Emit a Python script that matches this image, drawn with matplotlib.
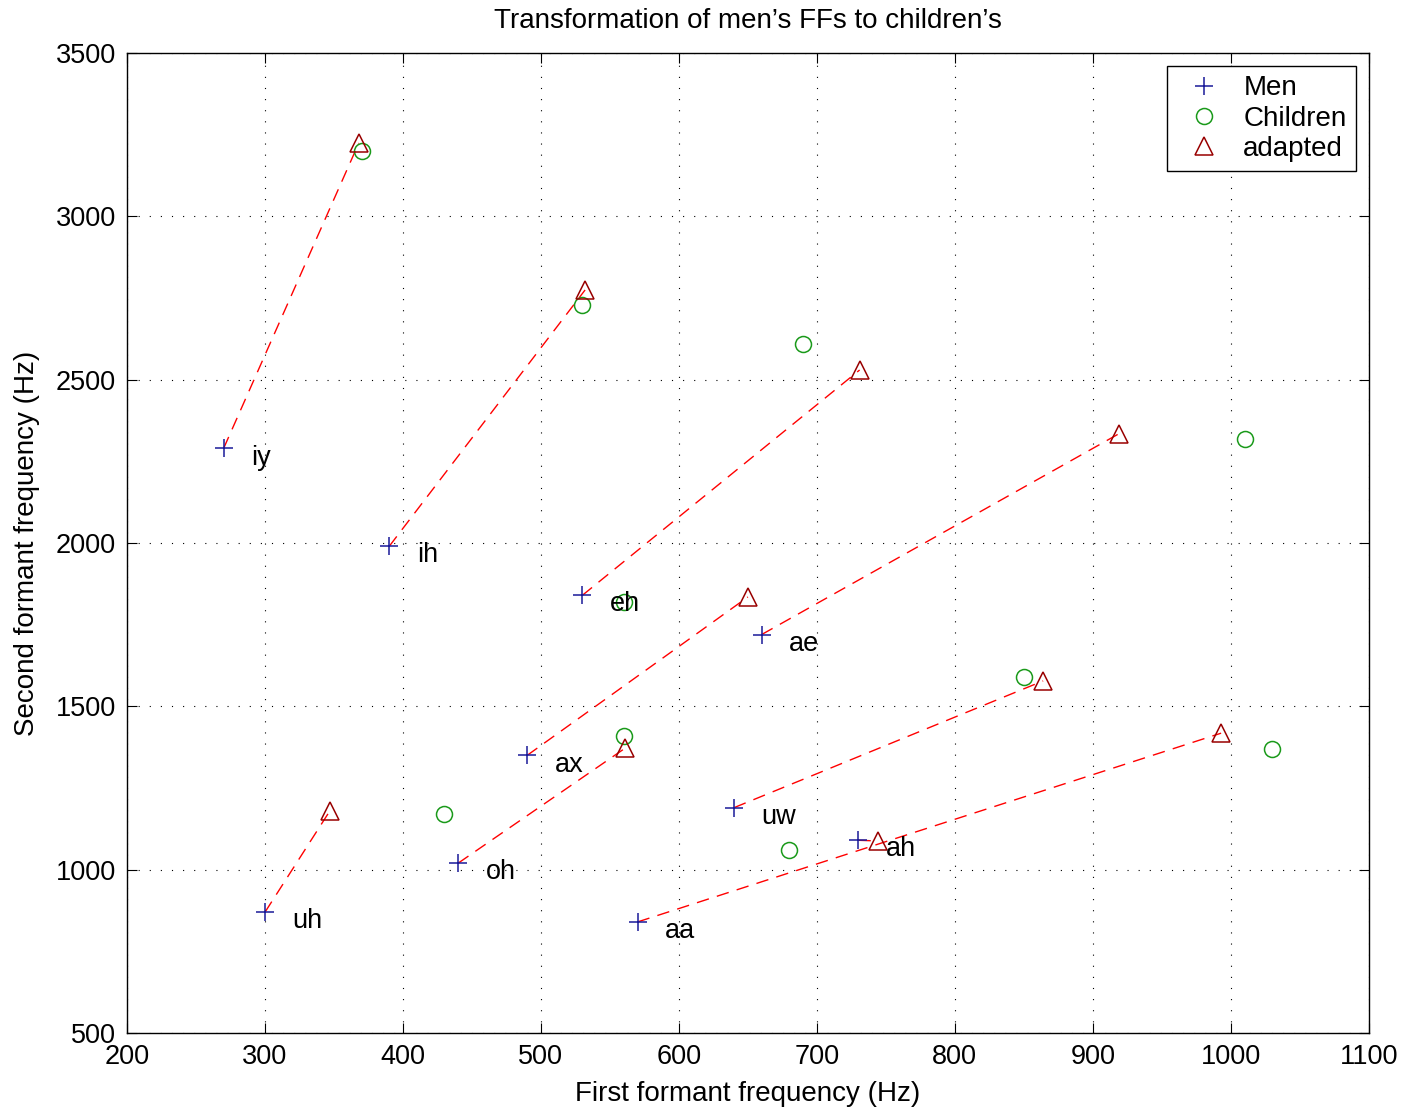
import numpy as np
import matplotlib
matplotlib.use('Agg')
import matplotlib.pyplot as plt

plt.rcParams['font.family'] = ['Liberation Sans', 'DejaVu Sans']

# vowel labels and formant values (Hz)
vowels = ['iy', 'ih', 'eh', 'ae', 'ax', 'uw', 'ah', 'oh', 'uh', 'aa']
men_f1 = [270, 390, 530, 660, 490, 640, 730, 440, 300, 570]
men_f2 = [2290, 1990, 1840, 1720, 1350, 1190, 1090, 1020, 870, 840]

child_f1 = [370, 530, 690, 1010, 560, 850, 1030, 560, 430, 680]
child_f2 = [3200, 2730, 2610, 2320, 1820, 1590, 1370, 1410, 1170, 1060]

adapt_f1 = [368, 532, 731, 919, 650, 864, 993, 561, 347, 744]
adapt_f2 = [3225, 2775, 2530, 2335, 1835, 1578, 1418, 1372, 1180, 1088]

# which adapted point each man's vowel is mapped to
pairs = [(0, 0), (1, 1), (2, 2), (3, 3), (4, 4), (5, 5), (6, 9), (7, 7), (8, 8), (9, 6)]

fig = plt.figure(figsize=(14.07, 11.08), dpi=100)
ax = fig.add_axes([0.0903, 0.0677, 0.8825, 0.8843])

# dashed mapping lines
for m, a in pairs:
    ax.plot([men_f1[m], adapt_f1[a]], [men_f2[m], adapt_f2[a]], color='red',
            linestyle=(0, (9, 6)), linewidth=1.0)

ax.plot(men_f1, men_f2, '+', color='#1a1a99', markersize=13, markeredgewidth=1.1, label='Men')
ax.plot(child_f1, child_f2, 'o', color='#1a9a1a', markerfacecolor='none', markersize=11.5,
        markeredgewidth=1.1, label='Children')
ax.plot(adapt_f1, adapt_f2, '^', color='#990000', markerfacecolor='none', markersize=12.5,
        markeredgewidth=1.1, label='adapted')

for v, x, y in zip(vowels, men_f1, men_f2):
    ax.text(x + 20, y - 28, v, fontsize=19.5, va='center', ha='left')

ax.set_xlim(200, 1100)
ax.set_ylim(500, 3500)
ax.set_xticks(np.arange(200, 1101, 100))
ax.set_yticks(np.arange(500, 3501, 500))
ax.tick_params(direction='in', length=7, width=0.8, labelsize=19.5, top=True, right=True, pad=8)
ax.grid(True, color='black', linestyle=(0, (1, 9)), linewidth=0.8)
for s in ax.spines.values():
    s.set_linewidth(1.0)

ax.set_title("Transformation of men\u2019s FFs to children\u2019s", fontsize=20, pad=18)
ax.set_xlabel('First formant frequency (Hz)', fontsize=20, labelpad=8)
ax.set_ylabel('Second formant frequency (Hz)', fontsize=20, labelpad=11)

leg = ax.legend(loc='upper right', fontsize=20, fancybox=False, edgecolor='black',
                framealpha=1, borderaxespad=0.45, handletextpad=0.4, labelspacing=0.15,
                borderpad=0.35, handlelength=2.0)
leg.get_frame().set_linewidth(1.0)

fig.savefig('out.png', dpi=100)
